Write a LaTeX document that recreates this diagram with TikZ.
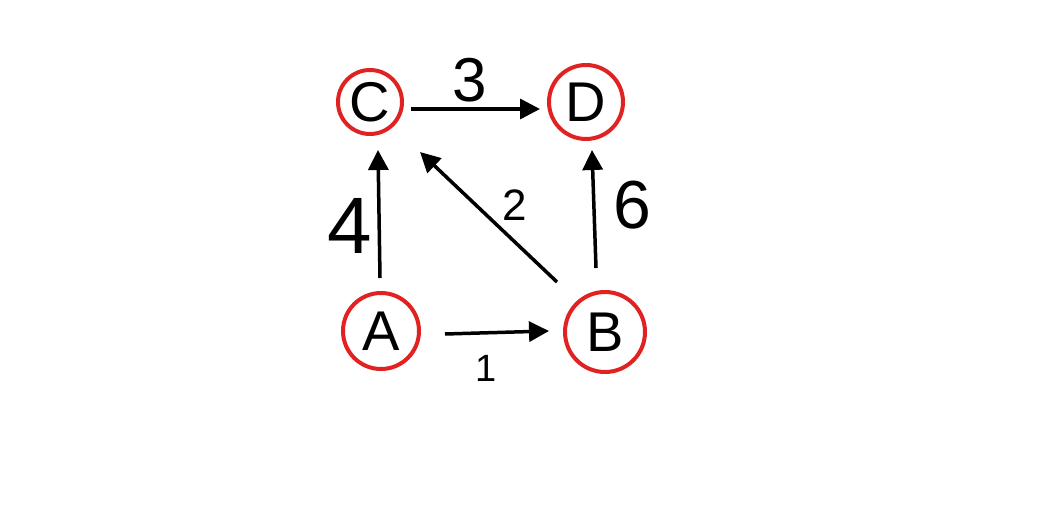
\documentclass[tikz,border=0pt]{standalone}
\usepackage{fontspec}
\setmainfont{Liberation Sans}
\usetikzlibrary{arrows.meta}
\definecolor{ringred}{HTML}{E02222}
\begin{document}
\begin{tikzpicture}[x=1pt,y=-1pt,
  vertex/.style={circle,draw=ringred,line width=4pt,inner sep=0pt,font=\fontsize{56}{56}\selectfont},
  edge/.style={line width=3.5pt,-{Triangle[length=20pt,width=20pt]}},
  wlabel/.style={font=\fontsize{44}{44}\selectfont}]
\useasboundingbox (0,0) rectangle (1052,505);
\node[vertex,minimum size=64pt] (C) at (370,102) {C};
\node[vertex,minimum size=74pt] (D) at (586,102) {D};
\node[vertex,minimum size=76pt] (A) at (381,331) {A};
\node[vertex,minimum size=80pt] (B) at (605,332) {B};
\coordinate (cdS) at (411,109); \coordinate (cdE) at (540,109);
\coordinate (acS) at (380,278); \coordinate (acE) at (378,150);
\coordinate (bcS) at (557,282); \coordinate (bcE) at (420,152);
\coordinate (bdS) at (596,268); \coordinate (bdE) at (592,150);
\coordinate (abS) at (445,334); \coordinate (abE) at (549,331);
\draw[edge] (cdS) -- (cdE);
\draw[edge] (acS) -- (acE);
\draw[edge] (bcS) -- (bcE);
\draw[edge] (bdS) -- (bdE);
\draw[edge] (abS) -- (abE);
\node[wlabel,font=\fontsize{62}{62}\selectfont] (l3) at (470,80) {3};
\node[wlabel,font=\fontsize{80}{80}\selectfont] (l4) at (350,226) {4};
\node[wlabel,font=\fontsize{44}{44}\selectfont] (l2) at (515,205) {2};
\node[wlabel,font=\fontsize{68}{68}\selectfont] (l6) at (632,205) {6};
\node[wlabel,font=\fontsize{38}{38}\selectfont] (l1) at (486,368) {1};
\end{tikzpicture}
\end{document}
